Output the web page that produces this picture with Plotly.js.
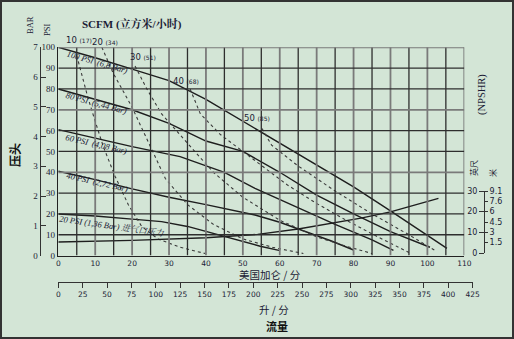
<!DOCTYPE html>
<html><head><meta charset="utf-8">
<script src="https://cdn.plot.ly/plotly-3.0.1.min.js"></script>
<style>html,body{margin:0;padding:0;background:#d3e5d6;}#c{width:514px;height:339px;}</style>
</head><body><div id="c"></div>
<script>
// flow in US gal/min, pressure in PSI
const psi100X = [0,10,20,30,40,50,60,70,80,90,100,105.3];
const psi100Y = [100,95,89.5,84,75,64.5,54,43.5,33,21.5,9.5,3.5];
const psi80X = [0,10,20,30,40,50,60,70,80,90,100.7];
const psi80Y = [80,75,70,63.5,55,50,40,29,20,11.5,4];
const psi60X = [0,10,20,33,45,53.3,65,75,85,90.8];
const psi60Y = [60.5,56.5,52.3,47.5,40,32.3,23,15,7.5,2.5];
const psi40X = [0,10,20,30,40,53.3,60,67,74,80];
const psi40Y = [40.5,36.5,32,28,24.5,19.5,16,11.5,7,2.7];
const psi20X = [0,10,20,28,35,45,54.7,60.1];
const psi20Y = [20,19,17.5,16.3,14,9,4.5,2.4];
const scfm10X = [5,8,9.9,12.2,15.4,19,22.6,27,33,39.8];
const scfm10Y = [96,76,65,52.3,38,24.3,14,8,4,1];
const scfm20X = [11.8,14.9,19.9,25,29,35,42,50,58,66.4];
const scfm20Y = [100,87.5,71.5,52,37,24.5,15,8,4,1];
const scfm30X = [20.8,24,28,32,36,42,50,60,70,78,85];
const scfm30Y = [91,80,68,60,52,40,28,17,9,4.5,1];
const scfm40X = [35.7,38.5,44,50,55,62,70,78,86,95];
const scfm40Y = [80,68,58,50,43.5,34,25,17,9.5,1.5];
const scfm50X = [55.2,57.8,65,75,85,95,102.5];
const scfm50Y = [61,53,43,31,20,10,2];
// NPSHR in feet
const npshrX = [0,20,40,54,65,74,82,90,97,103];
const npshrFt = [5.3,6.1,7.4,9.0,11.6,14.4,16.9,19.9,23.2,26.4];
const galTicks = [0,5,10,15,20,25,30,35,40,45,50,55,60,65,70,75,80,85,90,95,100,105,110];
const galText = galTicks.map(v => v % 10 === 0 ? String(v) : '');
const lpmTicks = [0,25,50,75,100,125,150,175,200,225,250,275,300,325,350,375,400,425];
const barTicks = [0,1,2,3,4,5,6,7];
const ftTicks = [0,10,20,30];
const mTickVals = [5,10,15,20,25,30];
const mTickText = ['1.5','3','4.5','6','7.6','9.1'];
const psiTicks = [0,10,20,30,40,50,60,70,80,90,100];
const scfmLabels = [
  {t:'10 <span style="font-size:6px">(17)</span>', px:79, py:40},
  {t:'20 <span style="font-size:6px">(34)</span>', px:105, py:42},
  {t:'30 <span style="font-size:6px">(51)</span>', px:143, py:57},
  {t:'40 <span style="font-size:6px">(68)</span>', px:186, py:81},
  {t:'50 <span style="font-size:6px">(85)</span>', px:257, py:118}
];
const curveLabels = [
  {t:'100 PSI  (6,8 Bar)', px:97, py:62, a:16},
  {t:'80 PSI  (5,44 Bar)', px:96, py:103, a:15},
  {t:'60 PSI  (4,08 Bar)', px:96, py:144, a:13},
  {t:'40 PSI  (2,72 Bar)', px:97, py:182, a:13},
  {t:'20 PSI (1,36 Bar) 进气口压力', px:112, py:226, a:8}
];

const W=514,H=339,ML=10,MR=10,MT=10,MB=10;
const pw=W-ML-MR, ph=H-MT-MB;
const fx = px => (px-ML)/pw;
const fy = py => (H-MB-py)/ph;

const txt='#1b1b35';
const solid = (x,y,o)=>Object.assign({x,y,type:'scatter',mode:'lines',line:{color:'#1e1e1e',width:1.4},hoverinfo:'skip',showlegend:false},o||{});
const dotted = (x,y)=>({x,y,type:'scatter',mode:'lines',line:{color:'#3a3a3a',width:1.1,dash:'dot'},hoverinfo:'skip',showlegend:false});
// unit-converted copies (not drawn) so the secondary axes are built
const ghost = (x,y,xa,ya)=>({x,y,xaxis:xa,yaxis:ya,type:'scatter',mode:'none',fill:'none',hoverinfo:'skip',showlegend:false});
const data = [
  solid(psi100X,psi100Y), solid(psi80X,psi80Y), solid(psi60X,psi60Y), solid(psi40X,psi40Y), solid(psi20X,psi20Y),
  dotted(scfm10X,scfm10Y), dotted(scfm20X,scfm20Y), dotted(scfm30X,scfm30Y), dotted(scfm40X,scfm40Y), dotted(scfm50X,scfm50Y),
  solid(npshrX,npshrFt,{xaxis:'x',yaxis:'y3'}),
  ghost(psi100X, psi100Y.map(v=>v/14.5), 'x','y2'),
  ghost(psi100X.map(g=>g*3.785), psi100Y, 'x2','y'),
  ghost(npshrX, npshrFt.map(f=>f*0.3048), 'x','y4')
];

// grid lines as shapes on the data axes, built from the tick arrays
const shapes = [];
galTicks.filter(v=>v>0).forEach(v=>{
  const major = v%10===0;
  shapes.push({type:'line',xref:'x',yref:'y',x0:v,x1:v,y0:0,y1:100,layer:'above',
    line:{color:major?'#7a7a7a':'#2e2e2e',width:major?1.8:1.3}});
});
psiTicks.filter(v=>v>0).forEach(v=>{
  const grey = (v===100||v===70||v===40);
  shapes.push({type:'line',xref:'x',yref:'y',x0:0,x1:110,y0:v,y1:v,layer:'above',
    line:{color:grey?'#7a7a7a':'#2e2e2e',width:grey?1.8:1.3}});
});
shapes.push({type:'rect',xref:'paper',yref:'paper',x0:fx(1),x1:fx(513),y0:fy(338),y1:fy(1),line:{color:'#333',width:2}});

const serif='Liberation Serif, Noto Serif CJK SC, Noto Sans CJK SC, serif';
const sans='DejaVu Sans, Noto Sans CJK SC, sans-serif';
const cjk='Noto Sans CJK SC, sans-serif';
const annotations = [];
const pa = (t,px,py,o)=>annotations.push(Object.assign({text:t,x:fx(px),y:fy(py),xref:'paper',yref:'paper',xanchor:'center',yanchor:'middle',showarrow:false,font:{family:serif,size:9,color:txt}},o||{}));
scfmLabels.forEach(l=>pa(l.t,l.px,l.py,{font:{family:sans,size:8.5,color:txt}}));
curveLabels.forEach(l=>pa('<i>'+l.t+'</i>',l.px,l.py,{textangle:l.a,font:{family:serif,size:8.5,color:txt}}));
pa('<b>SCFM (立方米/小时)</b>',132,24,{font:{family:serif,size:11,color:txt}});
pa('BAR',30,25,{textangle:-90,font:{family:serif,size:8.5,color:txt}});
pa('PSI',47,30,{textangle:-90,font:{family:serif,size:8.5,color:txt}});
pa('<b>压头</b>',14,155,{textangle:-90,font:{family:cjk,size:12,color:'#111'}});
pa('(NPSHR)',482,95,{textangle:-90,font:{family:serif,size:10.5,color:txt}});
pa('英尺',473,168,{textangle:-90,font:{family:cjk,size:8,color:txt}});
pa('米',492,173,{textangle:-90,font:{family:cjk,size:8,color:txt}});
pa('美国加仑 / 分',270,274,{font:{family:cjk,size:10.5,color:txt}});
pa('升 / 分',274,309,{font:{family:cjk,size:10.5,color:txt}});
pa('<b>流量</b>',277,326,{font:{family:cjk,size:11,color:'#111'}});

const yDom=[fy(255.6),fy(47.3)];
const layout = {
  width:W,height:H,margin:{l:ML,r:MR,t:MT,b:MB},
  paper_bgcolor:'#d3e5d6',plot_bgcolor:'rgba(0,0,0,0)',showlegend:false,
  xaxis:{domain:[fx(58.3),fx(464.3)],range:[0,110],tickvals:galTicks,ticktext:galText,anchor:'y',
    showgrid:false,showline:true,linecolor:'#222',linewidth:1.5,ticks:'',zeroline:false,
    tickfont:{family:sans,size:7.5,color:txt},fixedrange:true},
  xaxis2:{domain:[fx(58.3),fx(472.6)],range:[0,425],tickvals:lpmTicks,anchor:'free',position:fy(282),side:'bottom',
    showgrid:false,showline:true,linecolor:'#333',linewidth:1.2,ticks:'outside',ticklen:5,tickcolor:'#333',
    zeroline:false,tickfont:{family:sans,size:7.5,color:txt},fixedrange:true},
  yaxis:{domain:yDom,range:[0,100],tickvals:psiTicks,anchor:'x',showgrid:false,
    showline:true,linecolor:'#222',linewidth:1.5,ticks:'',zeroline:false,
    tickfont:{family:serif,size:9,color:txt},fixedrange:true},
  yaxis2:{overlaying:'y',anchor:'free',position:fx(39.5),side:'left',range:[0,7],tickvals:barTicks,
    ticks:'inside',ticklen:5,tickcolor:'#333',showline:true,linecolor:'#333',linewidth:1.2,showgrid:false,zeroline:false,
    tickfont:{family:serif,size:9,color:txt},fixedrange:true},
  yaxis3:{domain:[fy(253),fy(191)],anchor:'free',position:fx(484),side:'left',range:[0,30],tickvals:ftTicks,
    ticks:'outside',ticklen:5,tickcolor:'#333',showline:true,linecolor:'#333',linewidth:1.2,showgrid:false,zeroline:false,
    tickfont:{family:sans,size:8,color:txt},fixedrange:true},
  yaxis4:{overlaying:'y3',anchor:'free',position:fx(484),side:'right',range:[0,30],tickvals:mTickVals,ticktext:mTickText,
    ticks:'outside',ticklen:3,tickcolor:'#333',showline:false,showgrid:false,zeroline:false,
    tickfont:{family:sans,size:8,color:txt},fixedrange:true},
  annotations,
  shapes
};
Plotly.newPlot('c',data,layout,{staticPlot:true,displayModeBar:false});
</script></body></html>
